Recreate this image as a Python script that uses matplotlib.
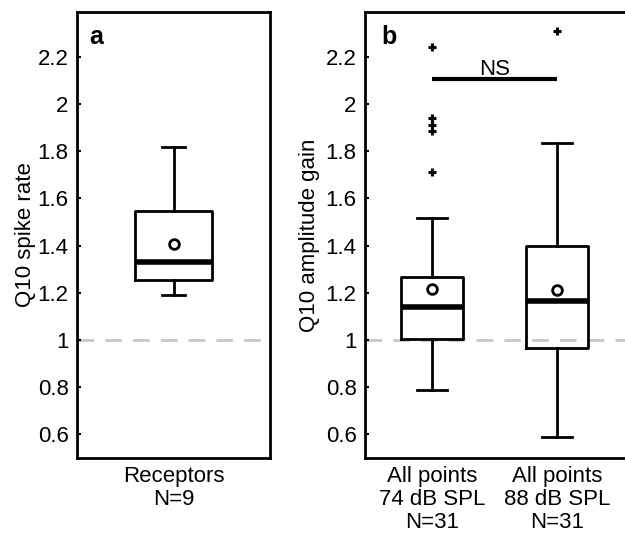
import matplotlib
matplotlib.use("Agg")
import matplotlib.pyplot as plt

plt.rcParams['font.family'] = ['Liberation Sans', 'DejaVu Sans']

# panel a: receptors
rec_label = ["Receptors\nN=9"]
rec_whislo = [1.19]
rec_q1 = [1.255]
rec_med = [1.332]
rec_q3 = [1.545]
rec_whishi = [1.82]
rec_mean = [1.405]
rec_fliers = [[]]

# panel b: all points, two levels
amp_labels = ["All points\n74 dB SPL\nN=31", "All points\n88 dB SPL\nN=31"]
amp_whislo = [0.79, 0.587]
amp_q1 = [1.004, 0.966]
amp_med = [1.14, 1.166]
amp_q3 = [1.268, 1.40]
amp_whishi = [1.515, 1.834]
amp_mean = [1.217, 1.21]
amp_fliers = [[2.24, 1.94, 1.91, 1.885, 1.71], [2.31]]

yticks = [0.6, 0.8, 1, 1.2, 1.4, 1.6, 1.8, 2, 2.2]
ytick_labels = ["0.6", "0.8", "1", "1.2", "1.4", "1.6", "1.8", "2", "2.2"]

FS = 16


def make_stats(labels, wlo, q1, med, q3, whi, mean, fliers):
    out = []
    for i in range(len(labels)):
        out.append(dict(label=labels[i], whislo=wlo[i], q1=q1[i], med=med[i],
                        q3=q3[i], whishi=whi[i], mean=mean[i], fliers=fliers[i]))
    return out


def draw(ax, stats, width, capw):
    ax.bxp(stats, positions=range(1, len(stats) + 1), widths=width,
           showmeans=True, showcaps=True, capwidths=capw,
           boxprops=dict(color='black', linewidth=2),
           whiskerprops=dict(color='black', linewidth=2),
           capprops=dict(color='black', linewidth=2),
           medianprops=dict(color='black', linewidth=4, solid_capstyle='butt'),
           meanprops=dict(marker='o', markerfacecolor='white', markeredgecolor='black',
                          markersize=7, markeredgewidth=2),
           flierprops=dict(marker='+', markeredgecolor='black', markersize=6,
                           markeredgewidth=2.2),
           zorder=3)
    ax.axhline(1, color='#c8c8c8', linewidth=2, dashes=(6, 4), zorder=1)
    ax.set_ylim(0.5, 2.39)
    ax.set_yticks(yticks)
    ax.set_yticklabels(ytick_labels)
    ax.tick_params(axis='y', direction='in', length=3, width=1.5, labelsize=FS, pad=6)
    ax.tick_params(axis='x', length=0, labelsize=FS, pad=6)
    for lbl in ax.get_xticklabels():
        lbl.set_linespacing(1.12)
    for s in ax.spines.values():
        s.set_linewidth(2)


fig = plt.figure(figsize=(6.25, 5.36), dpi=100)

ax1 = fig.add_axes([77 / 625, 78 / 536, 193 / 625, 446 / 536])
draw(ax1, make_stats(rec_label, rec_whislo, rec_q1, rec_med, rec_q3, rec_whishi,
                     rec_mean, rec_fliers), 0.404, 0.114)
ax1.set_xlim(0.5, 1.5)
ax1.set_ylabel("Q10 spike rate", fontsize=FS, labelpad=1)
ax1.text(0.1, 0.945, "a", transform=ax1.transAxes, fontsize=18, fontweight='bold',
         ha='center', va='center')

ax2 = fig.add_axes([365 / 625, 78 / 536, 263 / 625, 446 / 536])
draw(ax2, make_stats(amp_labels, amp_whislo, amp_q1, amp_med, amp_q3, amp_whishi,
                     amp_mean, amp_fliers), 0.5, 0.24)
ax2.set_xlim(0.464, 2.568)
ax2.set_ylabel("Q10 amplitude gain", fontsize=FS, labelpad=4)
ax2.text(0.09, 0.945, "b", transform=ax2.transAxes, fontsize=18, fontweight='bold',
         ha='center', va='center')
ax2.plot([1, 2], [2.106, 2.106], color='black', linewidth=3, solid_capstyle='butt')
ax2.text(1.5, 2.123, "NS", fontsize=FS, ha='center', va='baseline')

fig.savefig("out.png", dpi=100)
